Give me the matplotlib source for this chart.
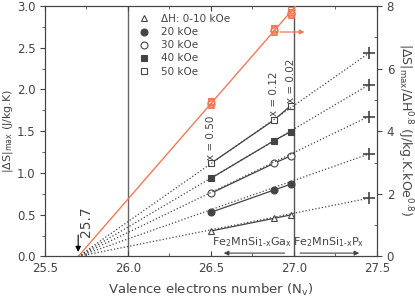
import matplotlib.pyplot as plt
from matplotlib.ticker import MultipleLocator

plt.rcParams['font.family'] = 'DejaVu Sans'
plt.rcParams['font.size'] = 8.5
plt.rcParams['mathtext.default'] = 'regular'

# valence electron numbers of the measured Fe2MnSi(1-x)Ga(x) samples
nv_ga = [26.5, 26.88, 26.98]
x_labels = ['x = 0.50', 'x = 0.12', 'x = 0.02']
nv_zero = 25.7
nv_p = 27.45

# |dS|max (J/kg.K) for each field change
fields = ['ΔH: 0-10 kOe', '20 kOe', '30 kOe', '40 kOe', '50 kOe']
ds_10 = [0.305, 0.457, 0.497]
ds_20 = [0.529, 0.796, 0.865]
ds_30 = [0.757, 1.116, 1.204]
ds_40 = [0.937, 1.387, 1.495]
ds_50 = [1.116, 1.635, 1.806]
all_ds = [ds_10, ds_20, ds_30, ds_40, ds_50]
mk = ['^', 'o', 'o', 's', 's']
filled = [False, True, False, True, False]

# predicted |dS|max/dH^0.8 for the P-substituted side (right axis)
pred_p = [1.86, 3.27, 4.47, 5.48, 6.49]

# normalised |dS|max/dH^0.8 (right axis), one value per field
norm_1 = [4.84, 4.87, 4.90, 4.92, 4.95]
norm_2 = [7.16, 7.20, 7.23, 7.26, 7.30]
norm_3 = [7.70, 7.74, 7.78, 7.82, 7.86]
fit_x = [25.7, 27.01]
fit_y = [0.0, 8.0]

dark = '#444444'
orange = '#f07a55'

fig = plt.figure(figsize=(4.15, 3.01), dpi=100)
ax = fig.add_axes([0.1084, 0.148, 0.80, 0.832])
ax2 = ax.twinx()

ax.axvline(26.0, color='#666666', lw=1.0, zorder=1)
ax.axvline(27.0, color='#555555', lw=1.0, zorder=1)

for i, ds in enumerate(all_ds):
    ax.plot(nv_ga, ds, '-', color=dark, lw=0.9, zorder=3)
    ax.plot(nv_ga, ds, mk[i], ls='none', ms=5, mec=dark, mew=0.8,
            mfc=dark if filled[i] else 'white', zorder=4, label=fields[i])

for i, p in enumerate(pred_p):
    ax2.plot([nv_zero, nv_p], [0, p], ':', color=dark, lw=0.9, zorder=2)
    ax2.plot(nv_p, p, '+', ms=9, mew=1.2, color=dark, zorder=4)

ax2.plot(fit_x, fit_y, '-', color=orange, lw=1.0, zorder=3)
for i in range(5):
    ax2.plot([nv_ga[0], nv_ga[1], nv_ga[2]], [norm_1[i], norm_2[i], norm_3[i]],
             mk[i], ls='none', ms=5, mfc='none', mec=orange, mew=0.8, zorder=4)

ax2.annotate('', xy=(27.08, 7.17), xytext=(26.9, 7.17),
             arrowprops=dict(arrowstyle='-|>', color=orange, lw=0.9,
                             mutation_scale=7))

# x value labels
label_y = [1.42, 1.95, 2.11]
for xv, lab, yv in zip(nv_ga, x_labels, label_y):
    ax.text(xv, yv, lab, rotation=90, ha='center', va='center',
            fontsize=7.5, color=dark)

ax.annotate('', xy=(nv_zero, 0.02), xytext=(nv_zero, 0.29),
            arrowprops=dict(arrowstyle='-|>', color='black', lw=0.8,
                            mutation_scale=8))
ax.text(25.745, 0.42, '25.7', rotation=90, ha='center', va='center',
        fontsize=10, color=dark)

ax.annotate('', xy=(26.56, 0.04), xytext=(26.96, 0.04),
            arrowprops=dict(arrowstyle='-|>', color=dark, lw=0.8,
                            mutation_scale=7))
ax.text(26.75, 0.17, r'Fe$_2$MnSi$_{1\text{-}x}$Ga$_x$', ha='center',
        va='center', fontsize=8, color=dark)
ax.annotate('', xy=(27.41, 0.04), xytext=(27.02, 0.04),
            arrowprops=dict(arrowstyle='-|>', color=dark, lw=0.8,
                            mutation_scale=7))
ax.text(27.21, 0.17, r'Fe$_2$MnSi$_{1\text{-}x}$P$_x$', ha='center',
        va='center', fontsize=8, color=dark)

ax.set_xlim(25.5, 27.5)
ax.set_ylim(0, 3)
ax2.set_ylim(0, 8)
ax.xaxis.set_major_locator(MultipleLocator(0.5))
ax.xaxis.set_minor_locator(MultipleLocator(0.25))
ax.yaxis.set_major_locator(MultipleLocator(0.5))
ax.yaxis.set_minor_locator(MultipleLocator(0.25))
ax2.yaxis.set_major_locator(MultipleLocator(2))
ax2.yaxis.set_minor_locator(MultipleLocator(1))
ax.tick_params(axis='x', which='both', direction='in', top=True, color=dark)
ax.tick_params(axis='x', which='major', pad=4)
ax.tick_params(axis='y', which='both', direction='out', color=dark)
ax2.tick_params(axis='y', which='major', direction='out', color=dark)
ax2.tick_params(axis='y', which='minor', direction='in', color=dark)
ax.xaxis.set_major_formatter(plt.FormatStrFormatter('%.1f'))
ax.yaxis.set_major_formatter(plt.FormatStrFormatter('%.1f'))
for a in (ax, ax2):
    for s in a.spines.values():
        s.set_color(dark)
    a.tick_params(labelcolor=dark, labelsize=8.5)

ax.set_xlabel(r'Valence electrons number (N$_v$)', color=dark, fontsize=9.5,
              labelpad=5)
ax.set_ylabel(r'|$\Delta$S|$_{max}$ (J/kg.K)', color=dark, fontsize=8)
ax.yaxis.set_label_coords(-0.11, 0.5)
ax.yaxis.label.set_verticalalignment('center')
fig.text(0.975, 0.57,
         r'|$\Delta$S|$_{max}$/$\Delta$H$^{0.8}$ (J/kg.K.kOe$^{0.8}$)',
         rotation=270, ha='center', va='center', color=dark, fontsize=9)

ax.legend(loc='upper left', bbox_to_anchor=(0.283, 0.968), frameon=False,
          handletextpad=1.1, labelspacing=0.3, handlelength=1.0,
          borderaxespad=0, borderpad=0, fontsize=7.5, labelcolor=dark)

fig.savefig('out.png', dpi=100)
